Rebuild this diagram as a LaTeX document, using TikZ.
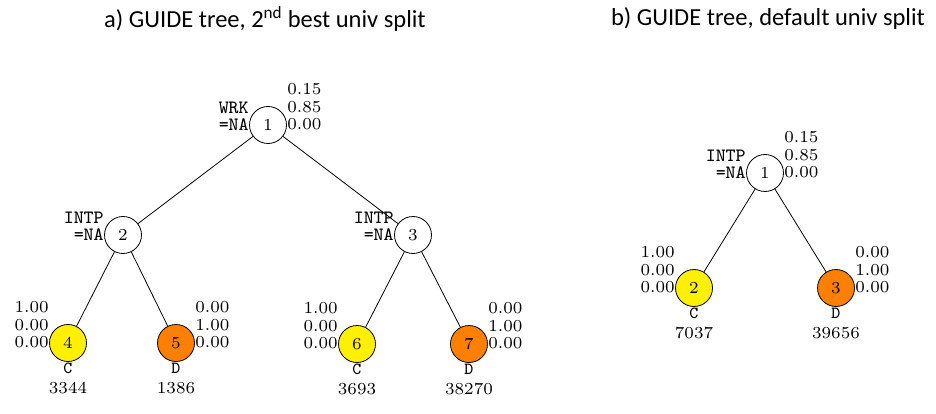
\documentclass[tikz,border=0pt]{standalone}
\usepackage{fontspec}
\newfontfamily\titlefont{Carlito}
\newfontfamily\treefont{lmroman7-regular}[Extension=.otf]
\newfontfamily\treett{lmmono8-regular}[Extension=.otf]
\usepackage{tikz}
\usetikzlibrary{positioning}
\usepackage{xcolor}
\definecolor{leafC}{RGB}{255,240,0}
\definecolor{leafD}{RGB}{255,128,0}
\newcommand\clsname[1]{{\treett\fontsize{17}{20}\selectfont #1}}

\begin{document}
\begin{tikzpicture}[x=1pt, y=-1pt, line width=0.8pt,
    nd/.style={circle, draw, minimum size=37pt, inner sep=0pt, font=\treefont\fontsize{16.8}{19}\selectfont},
    ndC/.style={nd, fill=leafC},
    ndD/.style={nd, fill=leafD},
    probs/.style={inner sep=0pt, align=left, font=\treefont\fontsize{16.8}{17.5}\selectfont},
    probsL/.style={inner sep=0pt, align=right, font=\treefont\fontsize{16.8}{17.5}\selectfont},
    splitlab/.style={inner sep=0pt, align=right, font=\treett\fontsize{18.8}{17.5}\selectfont},
    leaflab/.style={inner sep=1pt, align=center, font=\treefont\fontsize{16.8}{20}\selectfont},
    ttl/.style={font=\titlefont\fontsize{24.5}{28}\selectfont, inner sep=0pt}]
\useasboundingbox (0,0) rectangle (936,414);

% titles
\node[ttl] (ta) at (265,19) {a) GUIDE tree, 2\textsuperscript{nd} best univ split};
\node[ttl] (tb) at (768,19) {b) GUIDE tree, default univ split};

% a) tree
\node[nd]  (n1) at (268,125) {1};
\node[nd]  (n2) at (123,235) {2};
\node[nd]  (n3) at (413,235) {3};
\node[ndC] (n4) at (68,343)  {4};
\node[ndD] (n5) at (176,343) {5};
\node[ndC] (n6) at (357,344) {6};
\node[ndD] (n7) at (469,344) {7};

\draw (n1) -- (n2);
\draw (n1) -- (n3);
\draw (n2) -- (n4);
\draw (n2) -- (n5);
\draw (n3) -- (n6);
\draw (n3) -- (n7);

\node[splitlab, anchor=south east] (s1) at ([yshift=-6pt]n1.west) {WRK\\=NA};
\node[splitlab, anchor=south east] (s2) at ([yshift=-6pt]n2.west) {INTP\\=NA};
\node[splitlab, anchor=south east] (s3) at ([yshift=-6pt]n3.west) {INTP\\=NA};

\node[probs, anchor=south west] (p1) at ([yshift=-5.3pt]n1.east) {0.15\\0.85\\0.00};
\node[probsL, anchor=south east] (p4) at ([yshift=-5.3pt]n4.west) {1.00\\0.00\\0.00};
\node[probs, anchor=south west] (p5) at ([yshift=-5.3pt]n5.east) {0.00\\1.00\\0.00};
\node[probsL, anchor=south east] (p6) at ([yshift=-5.3pt]n6.west) {1.00\\0.00\\0.00};
\node[probs, anchor=south west] (p7) at ([yshift=-5.3pt]n7.east) {0.00\\1.00\\0.00};

\node[leaflab, anchor=north] (c4) at (n4.south) {\clsname{C}\\3344};
\node[leaflab, anchor=north] (c5) at (n5.south) {\clsname{D}\\1386};
\node[leaflab, anchor=north] (c6) at (n6.south) {\clsname{C}\\3693};
\node[leaflab, anchor=north] (c7) at (n7.south) {\clsname{D}\\38270};

% b) tree
\node[nd]  (m1) at (765,173) {1};
\node[ndC] (m2) at (694,288) {2};
\node[ndD] (m3) at (836,288) {3};

\draw (m1) -- (m2);
\draw (m1) -- (m3);

\node[splitlab, anchor=south east] (r1) at ([yshift=-6pt]m1.west) {INTP\\=NA};
\node[probs, anchor=south west] (q1) at ([yshift=-5.3pt]m1.east) {0.15\\0.85\\0.00};
\node[probsL, anchor=south east] (q2) at ([yshift=-5.3pt]m2.west) {1.00\\0.00\\0.00};
\node[probs, anchor=south west] (q3) at ([yshift=-5.3pt]m3.east) {0.00\\1.00\\0.00};

\node[leaflab, anchor=north] (d2) at (m2.south) {\clsname{C}\\7037};
\node[leaflab, anchor=north] (d3) at (m3.south) {\clsname{D}\\39656};
\end{tikzpicture}
\end{document}
